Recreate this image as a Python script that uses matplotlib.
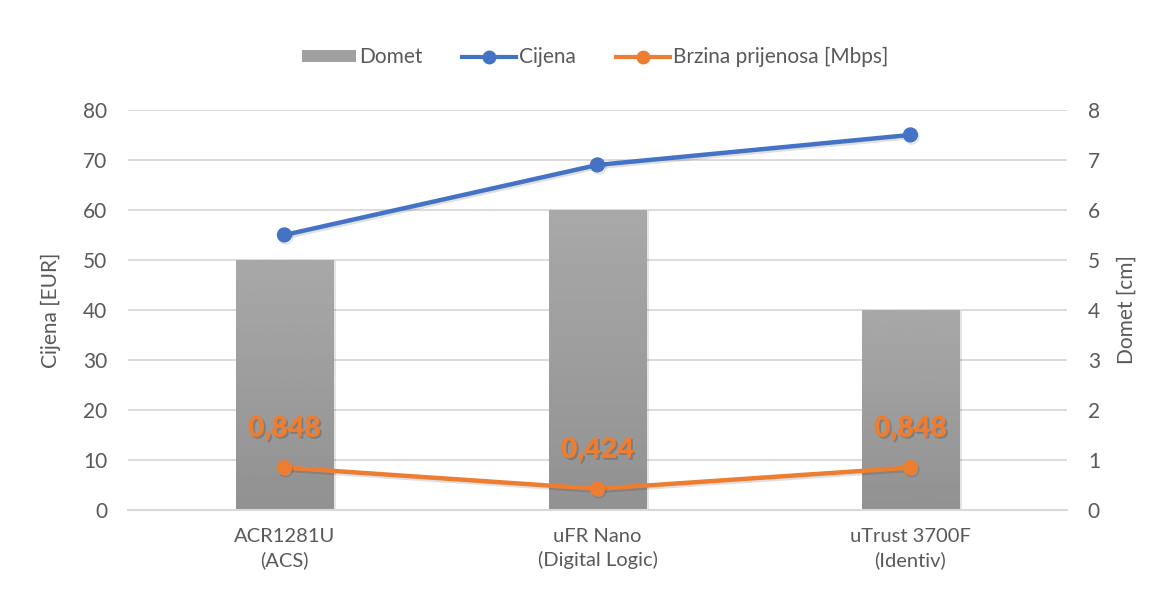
import numpy as np
import matplotlib
matplotlib.use("Agg")
import matplotlib.pyplot as plt
import matplotlib.patheffects as pe
from matplotlib.patches import Patch
from matplotlib.lines import Line2D

categories = ["ACR1281U\n(ACS)", "uFR Nano\n(Digital Logic)", "uTrust 3700F\n(Identiv)"]
domet = [5, 6, 4]
cijena = [55, 69, 75]
brzina = [0.848, 0.424, 0.848]
brzina_labels = ["0,848", "0,424", "0,848"]

TXT = "#595959"
GRID = "#d9d9d9"
BLUE = "#4472c4"
ORANGE = "#ed7d31"

plt.rcParams['font.family'] = ['Lato', 'DejaVu Sans']

fig = plt.figure(figsize=(11.58, 5.91), dpi=100)
ax = fig.add_axes([0.1105, 0.137, 0.8109, 0.677])
axc = ax.twinx()
x = np.arange(len(categories))

# bars + speed on the domet scale (host axis, ticks on right)
bars = ax.bar(x, domet, width=0.31, color="#9e9e9e", zorder=2)
grad = np.linspace(0.57, 0.66, 100).reshape(-1, 1)
for b in bars:
    bx, by = b.get_x(), b.get_y()
    im = ax.imshow(grad, cmap="gray", vmin=0, vmax=1, aspect="auto", origin="lower",
                   extent=[bx, bx + b.get_width(), by, by + b.get_height()], zorder=2.1)
    im.set_clip_path(b)
    b.set_path_effects([pe.SimplePatchShadow(offset=(2, -1), alpha=0.12), pe.Normal()])

shadow = [pe.SimpleLineShadow(offset=(1, -1.5), alpha=0.12), pe.Normal()]
ax.plot(x, brzina, color=ORANGE, lw=3.2, marker="o", ms=10, zorder=4, path_effects=shadow)
for i, lab in enumerate(brzina_labels):
    ax.annotate(lab, (x[i], brzina[i]), xytext=(0, 28), textcoords="offset points",
                ha="center", va="center", fontsize=20.5, fontweight="heavy", color=ORANGE, zorder=5,
                path_effects=[pe.SimplePatchShadow(offset=(1.3, -1.3), shadow_rgbFace="#555555", alpha=0.4),
                              pe.Normal()])

ax.set_ylim(0, 8)
ax.set_xlim(-0.5, 2.5)
ax.set_yticks(range(0, 9))
ax.grid(axis="y", color=GRID, lw=1.3, zorder=0)
ax.set_axisbelow(True)

# price line on the left scale
axc.plot(x, cijena, color=BLUE, lw=3.2, marker="o", ms=10, zorder=4, path_effects=shadow)
axc.set_ylim(0, 80)
axc.set_yticks(range(0, 81, 10))

ax.yaxis.tick_right()
ax.yaxis.set_label_position("right")
axc.yaxis.tick_left()
axc.yaxis.set_label_position("left")
ax.set_ylabel("Domet [cm]", color=TXT, fontsize=15, labelpad=12)
axc.set_ylabel("Cijena [EUR]", color=TXT, fontsize=15, labelpad=16)

ax.set_xticks(x)
ax.set_xticklabels(categories, fontsize=14.5, color=TXT, linespacing=1.4)

for a in (ax, axc):
    for s in a.spines.values():
        s.set_visible(False)
    a.tick_params(axis="both", length=0, labelcolor=TXT)
    a.tick_params(axis="y", labelsize=15, pad=15)
ax.tick_params(axis="x", pad=13)
ax.spines["bottom"].set_visible(True)
ax.spines["bottom"].set_color(GRID)
ax.spines["bottom"].set_linewidth(1.5)

handles = [Patch(facecolor="#a0a0a0", edgecolor="none"),
           Line2D([], [], color=BLUE, lw=3, marker="o", ms=9),
           Line2D([], [], color=ORANGE, lw=3, marker="o", ms=9)]
fig.legend(handles, ["Domet", "Cijena", "Brzina prijenosa [Mbps]"], loc="center",
           bbox_to_anchor=(0.514, 0.903), ncol=3, frameon=False, fontsize=15,
           labelcolor=TXT, handlelength=2.6, handletextpad=0.15, columnspacing=1.9,
           handleheight=0.55)

fig.savefig("out.png", dpi=100)
